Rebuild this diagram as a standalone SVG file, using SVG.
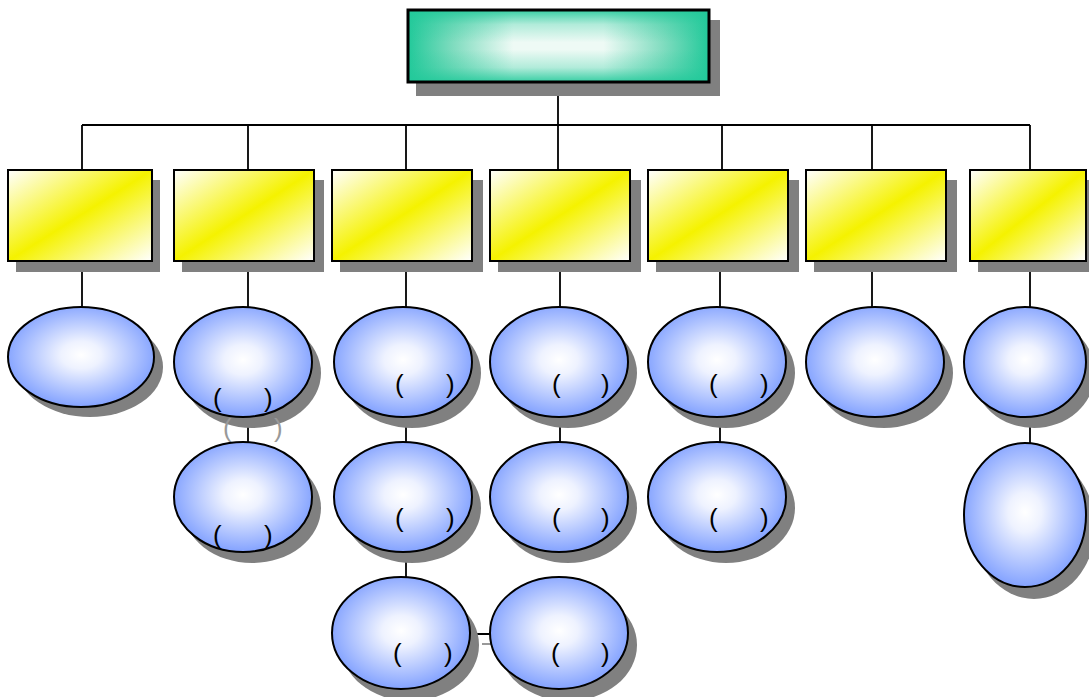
<svg xmlns="http://www.w3.org/2000/svg" width="1089" height="697" viewBox="0 0 1089 697">
<defs>
<linearGradient id="gTopH" x1="0" y1="0" x2="1" y2="0">
<stop offset="0" stop-color="#22c99a"/>
<stop offset="0.15" stop-color="#7fdcbf"/>
<stop offset="0.35" stop-color="#eefaf5"/>
<stop offset="0.65" stop-color="#eefaf5"/>
<stop offset="0.85" stop-color="#7fdcbf"/>
<stop offset="1" stop-color="#22c99a"/>
</linearGradient>
<linearGradient id="gTopV" x1="0" y1="0" x2="0" y2="1">
<stop offset="0" stop-color="#22c99a" stop-opacity="0.9"/>
<stop offset="0.2" stop-color="#22c99a" stop-opacity="0.3"/>
<stop offset="0.45" stop-color="#22c99a" stop-opacity="0"/>
<stop offset="0.55" stop-color="#22c99a" stop-opacity="0"/>
<stop offset="0.8" stop-color="#22c99a" stop-opacity="0.3"/>
<stop offset="1" stop-color="#22c99a" stop-opacity="0.9"/>
</linearGradient>
<linearGradient id="gYel" x1="0" y1="0" x2="1" y2="1">
<stop offset="0" stop-color="#ffffff"/>
<stop offset="0.5" stop-color="#f5f200"/>
<stop offset="1" stop-color="#ffffff"/>
</linearGradient>
<radialGradient id="gBlue" cx="0.5" cy="0.48" r="0.55">
<stop offset="0" stop-color="#ffffff"/>
<stop offset="0.25" stop-color="#eef2ff"/>
<stop offset="1" stop-color="#7b9cff"/>
</radialGradient>
<style>
.sh{fill:#808080}
.yb{fill:url(#gYel);stroke:#000;stroke-width:2}
.el{fill:url(#gBlue);stroke:#000;stroke-width:2}
.ln{stroke:#000;stroke-width:1.8;fill:none}
.p{font-family:"Liberation Sans","Noto Sans CJK SC",sans-serif;font-size:26px;fill:#000}
.pg{font-family:"Liberation Sans","Noto Sans CJK SC",sans-serif;font-size:26px;fill:#999}
</style>
</defs>
<rect width="1089" height="697" fill="#fff"/>

<g id="connectors">
<path class="ln" d="M558 82V125M82 125H1030M82 125V170M248 125V170M406 125V170M558 125V170M722 125V170M872 125V170M1030 125V170"/>
<path class="ln" d="M82 261V307M248 261V307M406 261V307M560 261V307M720 261V307M872 261V307M1030 261V307"/>
<path class="ln" d="M248 416V443M406 416V443M560 416V443M720 416V443M1030 416V443M406 552V577M470 634H490"/>
<path d="M482 644H500" stroke="#999" stroke-width="2"/>
</g>

<g id="root">
<rect class="sh" x="416" y="20" width="304" height="76"/>
<rect x="408" y="10" width="301" height="72" fill="url(#gTopH)"/>
<rect x="408" y="10" width="301" height="72" fill="url(#gTopV)" stroke="#000" stroke-width="3"/>
</g>

<g id="b1"><rect class="sh" x="16" y="180" width="144" height="92"/><rect class="yb" x="8" y="170" width="144" height="91"/></g>
<g id="b2"><rect class="sh" x="182" y="180" width="142" height="92"/><rect class="yb" x="174" y="170" width="140" height="91"/></g>
<g id="b3"><rect class="sh" x="340" y="180" width="143" height="92"/><rect class="yb" x="332" y="170" width="140" height="91"/></g>
<g id="b4"><rect class="sh" x="498" y="180" width="143" height="92"/><rect class="yb" x="490" y="170" width="140" height="91"/></g>
<g id="b5"><rect class="sh" x="656" y="180" width="143" height="92"/><rect class="yb" x="648" y="170" width="140" height="91"/></g>
<g id="b6"><rect class="sh" x="814" y="180" width="143" height="92"/><rect class="yb" x="806" y="170" width="140" height="91"/></g>
<g id="b7"><rect class="sh" x="978" y="180" width="111" height="92"/><rect class="yb" x="970" y="170" width="116" height="91"/></g>

<g id="e1"><ellipse class="sh" cx="90" cy="367" rx="73" ry="50"/><ellipse class="el" cx="81" cy="357" rx="73" ry="50"/></g>
<g id="e2"><ellipse class="sh" cx="252" cy="373" rx="69" ry="55"/><ellipse class="el" cx="243" cy="362" rx="69" ry="55"/>
<text class="p" x="213" y="407">(</text><text class="p" x="264" y="407">)</text>
<text class="pg" x="223" y="437">(</text><text class="pg" x="274" y="437">)</text></g>
<g id="e3"><ellipse class="sh" cx="412" cy="373" rx="69" ry="55"/><ellipse class="el" cx="403" cy="362" rx="69" ry="55"/>
<text class="p" x="395" y="393">(</text><text class="p" x="446" y="393">)</text></g>
<g id="e4"><ellipse class="sh" cx="568" cy="373" rx="69" ry="55"/><ellipse class="el" cx="559" cy="362" rx="69" ry="55"/>
<text class="p" x="552" y="393">(</text><text class="p" x="601" y="393">)</text></g>
<g id="e5"><ellipse class="sh" cx="726" cy="373" rx="69" ry="55"/><ellipse class="el" cx="717" cy="362" rx="69" ry="55"/>
<text class="p" x="709" y="393">(</text><text class="p" x="760" y="393">)</text></g>
<g id="e6"><ellipse class="sh" cx="884" cy="373" rx="69" ry="55"/><ellipse class="el" cx="875" cy="362" rx="69" ry="55"/></g>
<g id="e7"><ellipse class="sh" cx="1034" cy="373" rx="61" ry="55"/><ellipse class="el" cx="1025" cy="362" rx="61" ry="55"/></g>

<g id="e8"><ellipse class="sh" cx="252" cy="508" rx="69" ry="55"/><ellipse class="el" cx="243" cy="497" rx="69" ry="55"/>
<text class="p" x="213" y="544">(</text><text class="p" x="264" y="544">)</text></g>
<g id="e9"><ellipse class="sh" cx="412" cy="508" rx="69" ry="55"/><ellipse class="el" cx="403" cy="497" rx="69" ry="55"/>
<text class="p" x="395" y="527">(</text><text class="p" x="446" y="527">)</text></g>
<g id="e10"><ellipse class="sh" cx="568" cy="508" rx="69" ry="55"/><ellipse class="el" cx="559" cy="497" rx="69" ry="55"/>
<text class="p" x="552" y="527">(</text><text class="p" x="601" y="527">)</text></g>
<g id="e11"><ellipse class="sh" cx="726" cy="508" rx="69" ry="55"/><ellipse class="el" cx="717" cy="497" rx="69" ry="55"/>
<text class="p" x="709" y="527">(</text><text class="p" x="760" y="527">)</text></g>
<g id="e12"><ellipse class="sh" cx="1034" cy="527" rx="61" ry="72"/><ellipse class="el" cx="1025" cy="515" rx="61" ry="72"/></g>

<g id="e13"><ellipse class="sh" cx="410" cy="645" rx="69" ry="56"/><ellipse class="el" cx="401" cy="633" rx="69" ry="56"/>
<text class="p" x="393" y="662">(</text><text class="p" x="444" y="662">)</text></g>
<g id="e14"><ellipse class="sh" cx="568" cy="645" rx="69" ry="56"/><ellipse class="el" cx="559" cy="633" rx="69" ry="56"/>
<text class="p" x="551" y="662">(</text><text class="p" x="601" y="662">)</text></g>
</svg>
